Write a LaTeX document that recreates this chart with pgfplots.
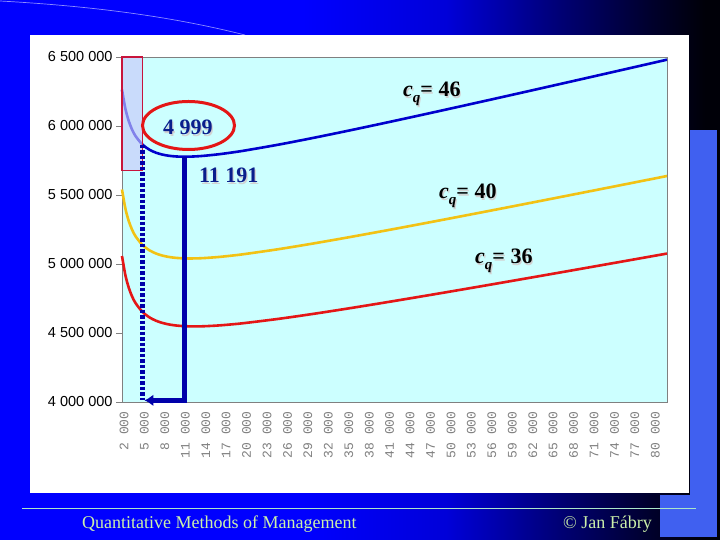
\documentclass[border=0pt]{standalone}
\usepackage{pgfplots}
\usepackage{pgfplotstable}
\pgfplotsset{compat=1.18}
\usepackage{fontspec}
\setmainfont{Liberation Serif}
\newfontfamily\arialfont{Liberation Sans}
\newfontfamily\courfont{Liberation Mono}
\usetikzlibrary{arrows.meta}

\definecolor{plotbg}{RGB}{204,255,255}
\definecolor{cqblue}{RGB}{0,0,205}
\definecolor{cqyellow}{RGB}{242,194,20}
\definecolor{cqred}{RGB}{228,22,22}
\definecolor{navy}{RGB}{0,0,170}
\definecolor{annot}{RGB}{10,30,140}
\definecolor{lav}{RGB}{200,200,250}
\definecolor{boxred}{RGB}{200,20,60}
\definecolor{footgreen}{RGB}{204,240,170}
\definecolor{footline}{RGB}{170,230,200}
\definecolor{sidebar}{RGB}{64,96,240}

\pgfdeclarehorizontalshading{slidebg}{100bp}{rgb(0bp)=(0,0,1); rgb(25bp)=(0,0,1); rgb(46bp)=(0,0,1); rgb(56bp)=(0,0,0.85); rgb(64bp)=(0,0,0.45); rgb(70bp)=(0,0,0.18); rgb(74bp)=(0,0,0.03); rgb(100bp)=(0,0,0.03)}

% total cost for the three prices c_q = 46, 40, 36
\pgfplotstableread{
q     blue    yellow  red
2000  6263000 5540000 5058000
2500  6124750 5401000 4918500
3000  6034500 5310000 4827000
3500  5971679 5246429 4762929
4000  5926000 5200000 4716000
5000  5865500 5138000 4653000
6000  5829000 5100000 4614000
7000  5806214 5075714 4588714
8000  5792000 5060000 4572000
9000  5783500 5050000 4561000
10000 5779000 5044000 4554000
11000 5777409 5040909 4549909
12000 5778000 5040000 4548000
13000 5780269 5040769 4547769
14000 5783857 5042857 4548857
16000 5794000 5050000 4554000
18000 5807000 5060000 4562000
20000 5822000 5072000 4572000
25000 5865100 5107600 4602600
30000 5913000 5148000 4638000
35000 5963643 5191143 4676143
40000 6016000 5236000 4716000
45000 6069500 5282000 4757000
50000 6123800 5328800 4798800
55000 6178682 5376182 4841182
60000 6234000 5424000 4884000
65000 6289654 5472154 4927154
70000 6345571 5520571 4970571
75000 6401700 5569200 5014200
80000 6458000 5618000 5058000
82000 6480561 5637561 5075561
}\costdata

\newcommand{\shtext}[4]{%
  \node[anchor=base west, inner sep=0, text=gray!35] at ({#1+1.1},{#2-1.1}) {#4};
  \node[anchor=base west, inner sep=0, text=#3] at (#1,#2) {#4};}
\newcommand{\cq}[1]{\textbf{\textit{c}\raisebox{-6pt}{\fontsize{15}{15}\selectfont\textit{q}}= #1}}

\begin{document}
\begin{tikzpicture}[x=1pt,y=1pt]
\useasboundingbox (0,0) rectangle (720,540);
\shade[shading=slidebg] (0,0) rectangle (720,540);
\fill[sidebar] (690,3) rectangle (717,410);
\fill[sidebar] (660,3) rectangle (717,45);
\draw[blue!45!white, line width=0.7pt] (0,539) .. controls (90,534) and (170,524) .. (245,505);
\fill[white] (30,47) rectangle (689,505);
\draw[footline, line width=0.8pt] (22,32) -- (696,32);
\node[anchor=base west, inner sep=0, text=footgreen, font=\fontsize{18}{20}\selectfont] at (82,11) {Quantitative Methods of Management};
\node[anchor=base west, inner sep=0, text=footgreen, font=\fontsize{18}{20}\selectfont] at (563,11) {© Jan Fábry};

\begin{axis}[
  at={(122pt,138pt)}, anchor=south west,
  width=545pt, height=345pt, scale only axis,
  xmin=2000, xmax=82000, ymin=4000000, ymax=6500000,
  axis background/.style={fill=plotbg},
  axis line style={draw=gray},
  scaled ticks=false,
  tick align=outside, major tick length=6pt,
  ytick pos=left, xtick pos=bottom,
  ytick={4000000,4500000,5000000,5500000,6000000,6500000},
  yticklabels={4 000 000,4 500 000,5 000 000,5 500 000,6 000 000,6 500 000},
  yticklabel style={font=\arialfont\fontsize{14.5}{16}\selectfont, text=black},
  ytick style={draw=gray, line width=0.6pt},
  xtick={2000,5000,...,80000},
  xticklabels={2 000,5 000,8 000,11 000,14 000,17 000,20 000,23 000,26 000,29 000,32 000,35 000,38 000,41 000,44 000,47 000,50 000,53 000,56 000,59 000,62 000,65 000,68 000,71 000,74 000,77 000,80 000},
  xticklabel style={rotate=90, anchor=east, font=\courfont\fontsize{13}{13}\selectfont, text=gray, yshift=-2pt},
  xtick style={draw=none},
  clip=false,
]
\addplot[cqblue, line width=2.6pt, smooth] table[x=q, y=blue] {\costdata};
\addplot[cqyellow, line width=2.6pt, smooth] table[x=q, y=yellow] {\costdata};
\addplot[cqred, line width=2.6pt, smooth] table[x=q, y=red] {\costdata};
\draw[boxred, line width=1.3pt, fill=lav, fill opacity=0.65] (2000,5680000) rectangle (5000,6500000);
\draw[navy, line width=4.5pt, dash pattern=on 3.5pt off 2pt] (5000,5865500) -- (5000,4012000);
\draw[navy, line width=4.5pt, line join=miter, -{Latex[length=9pt,width=12pt]}] (11191,5777400) -- (11191,4012000) -- (5300,4012000);
\end{axis}

\draw[cqred, line width=3pt] (188.5,414.5) ellipse [x radius=46, y radius=24];
\begin{scope}[font=\fontsize{22}{24}\selectfont\bfseries]
\shtext{163}{405}{annot}{4 999}
\shtext{199}{357}{annot}{11 191}
\end{scope}
\begin{scope}[font=\fontsize{22}{24}\selectfont]
\shtext{403}{443}{black}{\cq{46}}
\shtext{439}{341}{black}{\cq{40}}
\shtext{475}{276}{black}{\cq{36}}
\end{scope}
\end{tikzpicture}
\end{document}
